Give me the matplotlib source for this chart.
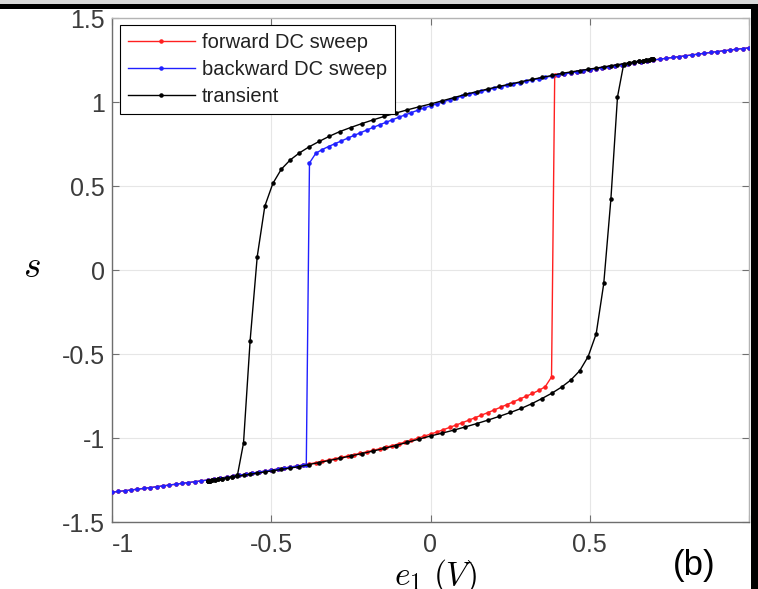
import matplotlib
matplotlib.use('Agg')
import matplotlib.pyplot as plt
from matplotlib.patches import Rectangle

plt.rcParams['font.family'] = ['Liberation Sans', 'DejaVu Sans']
plt.rcParams['mathtext.fontset'] = 'cm'

# ---------------- data ----------------
# DC sweep: upper branch (e from -0.38 to 1.00, step 0.02)
dc_upper_e = [-0.38, -0.36, -0.34, -0.32, -0.30, -0.28, -0.26, -0.24, -0.22, -0.20,
              -0.18, -0.16, -0.14, -0.12, -0.10, -0.08, -0.06, -0.04, -0.02, 0.00,
              0.02, 0.04, 0.06, 0.08, 0.10, 0.12, 0.14, 0.16, 0.18, 0.20,
              0.22, 0.24, 0.26, 0.28, 0.30, 0.32, 0.34, 0.36, 0.38, 0.40,
              0.42, 0.44, 0.46, 0.48, 0.50, 0.52, 0.54, 0.56, 0.58, 0.60,
              0.62, 0.64, 0.66, 0.68, 0.70, 0.72, 0.74, 0.76, 0.78, 0.80,
              0.82, 0.84, 0.86, 0.88, 0.90, 0.92, 0.94, 0.96, 0.98, 1.00]
dc_upper_s = [0.637, 0.695, 0.717, 0.735, 0.752, 0.768, 0.785, 0.801, 0.817, 0.833,
              0.849, 0.864, 0.879, 0.894, 0.909, 0.923, 0.937, 0.951, 0.964, 0.977,
              0.989, 1.001, 1.013, 1.024, 1.035, 1.045, 1.055, 1.064, 1.073, 1.082,
              1.091, 1.099, 1.107, 1.115, 1.123, 1.131, 1.139, 1.147, 1.154, 1.161,
              1.167, 1.173, 1.179, 1.185, 1.191, 1.197, 1.203, 1.209, 1.215, 1.221,
              1.227, 1.233, 1.239, 1.245, 1.250, 1.255, 1.260, 1.265, 1.270, 1.275,
              1.280, 1.285, 1.290, 1.295, 1.300, 1.305, 1.309, 1.314, 1.318, 1.323]
# DC sweep: lower branch (e from -1.00 to 0.38, step 0.02)
dc_lower_e = [-1.00, -0.98, -0.96, -0.94, -0.92, -0.90, -0.88, -0.86, -0.84, -0.82,
              -0.80, -0.78, -0.76, -0.74, -0.72, -0.70, -0.68, -0.66, -0.64, -0.62,
              -0.60, -0.58, -0.56, -0.54, -0.52, -0.50, -0.48, -0.46, -0.44, -0.42,
              -0.40, -0.38, -0.36, -0.34, -0.32, -0.30, -0.28, -0.26, -0.24, -0.22,
              -0.20, -0.18, -0.16, -0.14, -0.12, -0.10, -0.08, -0.06, -0.04, -0.02,
              0.00, 0.02, 0.04, 0.06, 0.08, 0.10, 0.12, 0.14, 0.16, 0.18,
              0.20, 0.22, 0.24, 0.26, 0.28, 0.30, 0.32, 0.34, 0.36, 0.38]
dc_lower_s = [-1.323, -1.318, -1.314, -1.309, -1.305, -1.300, -1.295, -1.290, -1.285, -1.280,
              -1.275, -1.270, -1.265, -1.260, -1.255, -1.250, -1.245, -1.239, -1.233, -1.227,
              -1.221, -1.215, -1.209, -1.203, -1.197, -1.191, -1.185, -1.179, -1.173, -1.167,
              -1.161, -1.154, -1.147, -1.139, -1.131, -1.123, -1.115, -1.107, -1.099, -1.091,
              -1.082, -1.073, -1.064, -1.055, -1.045, -1.035, -1.024, -1.013, -1.001, -0.989,
              -0.977, -0.964, -0.951, -0.937, -0.923, -0.909, -0.894, -0.879, -0.864, -0.849,
              -0.833, -0.817, -0.801, -0.785, -0.768, -0.752, -0.735, -0.717, -0.695, -0.637]
# jump points of the DC sweeps
fwd_jump_e, fwd_jump_s = 0.39, 1.158
bwd_jump_e, bwd_jump_s = -0.39, -1.158

# transient: rising half (e: -0.7 -> 0.7)
tr_rise_e = [-0.7000, -0.6990, -0.6962, -0.6914, -0.6847, -0.6762, -0.6657, -0.6535, -0.6395, -0.6237,
             -0.6062, -0.5871, -0.5663, -0.5440, -0.5202, -0.4950, -0.4684, -0.4405, -0.4115, -0.3812,
             -0.3500, -0.3178, -0.2847, -0.2509, -0.2163, -0.1812, -0.1455, -0.1095, -0.0732, -0.0366,
             0.0000, 0.0366, 0.0732, 0.1095, 0.1455, 0.1812, 0.2163, 0.2509, 0.2847, 0.3178,
             0.3500, 0.3812, 0.4115, 0.4405, 0.4684, 0.4950, 0.5202, 0.5440, 0.5663, 0.5871,
             0.6062, 0.6237, 0.6395, 0.6535, 0.6657, 0.6762, 0.6847, 0.6914, 0.6962, 0.6990, 0.7000]
tr_rise_s = [-1.256, -1.256, -1.255, -1.254, -1.252, -1.249, -1.246, -1.243, -1.238, -1.233,
             -1.228, -1.222, -1.216, -1.209, -1.202, -1.195, -1.187, -1.179, -1.170, -1.158,
             -1.146, -1.134, -1.121, -1.107, -1.093, -1.078, -1.062, -1.045, -1.026, -1.007,
             -0.988, -0.971, -0.953, -0.934, -0.914, -0.893, -0.871, -0.848, -0.824, -0.796,
             -0.765, -0.733, -0.697, -0.655, -0.600, -0.515, -0.380, -0.080, 0.420, 1.030,
             1.222, 1.232, 1.238, 1.243, 1.247, 1.250, 1.252, 1.254, 1.255, 1.256, 1.256]
# transient: falling half (e: 0.7 -> -0.7)
tr_fall_e = [0.7000, 0.6990, 0.6962, 0.6914, 0.6847, 0.6762, 0.6657, 0.6535, 0.6395, 0.6237,
             0.6062, 0.5871, 0.5663, 0.5440, 0.5202, 0.4950, 0.4684, 0.4405, 0.4115, 0.3812,
             0.3500, 0.3178, 0.2847, 0.2509, 0.2163, 0.1812, 0.1455, 0.1095, 0.0732, 0.0366,
             0.0000, -0.0366, -0.0732, -0.1095, -0.1455, -0.1812, -0.2163, -0.2509, -0.2847, -0.3178,
             -0.3500, -0.3812, -0.4115, -0.4405, -0.4684, -0.4950, -0.5202, -0.5440, -0.5663, -0.5871,
             -0.6062, -0.6237, -0.6395, -0.6535, -0.6657, -0.6762, -0.6847, -0.6914, -0.6962, -0.6990, -0.7000]
tr_fall_s = [1.256, 1.256, 1.255, 1.254, 1.252, 1.249, 1.246, 1.243, 1.238, 1.233,
             1.228, 1.222, 1.216, 1.209, 1.202, 1.195, 1.187, 1.179, 1.170, 1.158,
             1.146, 1.134, 1.121, 1.107, 1.093, 1.078, 1.062, 1.045, 1.026, 1.007,
             0.988, 0.971, 0.953, 0.934, 0.914, 0.893, 0.871, 0.848, 0.824, 0.796,
             0.765, 0.733, 0.697, 0.655, 0.600, 0.515, 0.380, 0.080, -0.420, -1.030,
             -1.222, -1.232, -1.238, -1.243, -1.247, -1.250, -1.252, -1.254, -1.255, -1.256, -1.256]

series_labels = ['forward DC sweep', 'backward DC sweep', 'transient']
x_ticks = [-1, -0.5, 0, 0.5, 1]
x_ticklabels = ['-1', '-0.5', '0', '0.5', '1']
y_ticks = [-1.5, -1, -0.5, 0, 0.5, 1, 1.5]
y_ticklabels = ['-1.5', '-1', '-0.5', '0', '0.5', '1', '1.5']

# ------------- assemble sweeps -------------
fwd_e = dc_lower_e + [fwd_jump_e] + [e for e in dc_upper_e if e >= 0.40]
fwd_s = dc_lower_s + [fwd_jump_s] + [s for e, s in zip(dc_upper_e, dc_upper_s) if e >= 0.40]
bwd_e = dc_upper_e[::-1] + [bwd_jump_e] + [e for e in dc_lower_e[::-1] if e <= -0.40]
bwd_s = dc_upper_s[::-1] + [bwd_jump_s] + [s for e, s in zip(dc_lower_e[::-1], dc_lower_s[::-1]) if e <= -0.40]
tr_e = tr_rise_e + tr_fall_e[1:]
tr_s = tr_rise_s + tr_fall_s[1:]

# ---------------- figure ----------------
W, H = 758, 589
fig = plt.figure(figsize=(W / 100, H / 100), dpi=100)
fig.patch.set_facecolor('white')
ax = fig.add_axes([112 / W, 1 - 522 / H, 637 / W, 504 / H])

ax.plot(fwd_e, fwd_s, '-', color='#ff2020', lw=1.0, marker='.', ms=4.5,
        label=series_labels[0], zorder=3)
ax.plot(bwd_e, bwd_s, '-', color='#2020ff', lw=1.0, marker='.', ms=4.5,
        label=series_labels[1], zorder=4)
ax.plot(tr_e, tr_s, '-', color='black', lw=1.0, marker='.', ms=4.5,
        label=series_labels[2], zorder=5)

ax.set_xlim(-1, 1)
ax.set_ylim(-1.5, 1.5)
ax.set_xticks(x_ticks)
ax.set_xticklabels(x_ticklabels)
ax.set_yticks(y_ticks)
ax.set_yticklabels(y_ticklabels)
xl = ax.get_xticklabels()
xl[0].set_horizontalalignment('left')
xl[-1].set_horizontalalignment('left')

ax.tick_params(direction='in', length=5, width=0.8, top=True, right=True,
               labelsize=18, labelcolor='#3c3c3c', color='#707070')
ax.tick_params(axis='x', pad=8)
ax.tick_params(axis='y', pad=5)
ax.grid(True, color='#e6e6e6', lw=0.8)
ax.set_axisbelow(True)
for side in ['left', 'bottom']:
    ax.spines[side].set_color('#6e6e6e')
    ax.spines[side].set_linewidth(1.0)
for side in ['top', 'right']:
    ax.spines[side].set_color('#b4b4b4')
    ax.spines[side].set_linewidth(1.0)

leg = ax.legend(loc='upper left', bbox_to_anchor=(8 / 637, 1 - 7 / 504), borderaxespad=0,
                fontsize=14.5, handlelength=3.3, handletextpad=0.35, labelspacing=0.4,
                borderpad=0.4, frameon=True, fancybox=False, edgecolor='black',
                framealpha=1, numpoints=1)
leg.get_frame().set_linewidth(0.8)
for t in leg.get_texts():
    t.set_color('#222222')

fig.text(32 / W, 1 - 267 / H, r'$s$', fontsize=27, ha='center', va='center')
fig.text(436 / W, 1 - 576 / H, r'$e_1\ (V)$', fontsize=24, ha='center', va='center')
fig.text(694 / W, 1 - 566 / H, '(b)', fontsize=25, ha='center', va='center', color='black')

# frame around the image (top and right)
fig.add_artist(Rectangle((0, (H - 4) / H), 1, 4 / H, transform=fig.transFigure,
                         facecolor='#d9d9d9', edgecolor='none', zorder=10))
fig.add_artist(Rectangle((0, (H - 8.5) / H), 757.5 / W, 4.5 / H, transform=fig.transFigure,
                         facecolor='black', edgecolor='none', zorder=11))
fig.add_artist(Rectangle((751 / W, 0), 6.5 / W, (H - 4) / H, transform=fig.transFigure,
                         facecolor='black', edgecolor='none', zorder=11))

fig.savefig('out.png', dpi=100)
